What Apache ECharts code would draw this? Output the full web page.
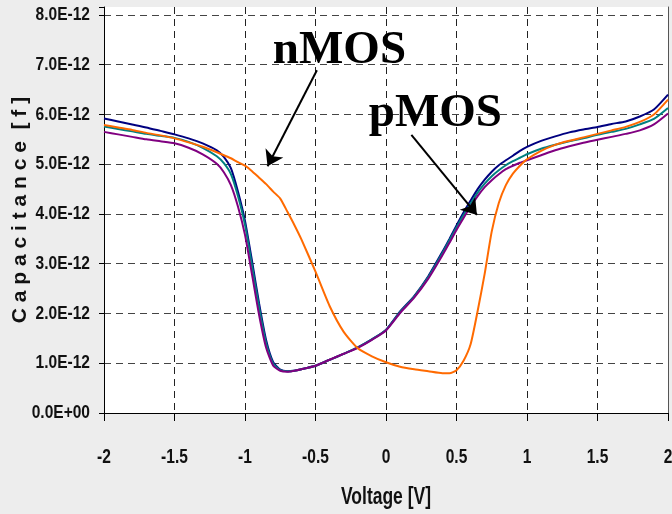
<!DOCTYPE html>
<html>
<head>
<meta charset="utf-8">
<script src="https://cdn.jsdelivr.net/npm/echarts@6/dist/echarts.min.js"></script>
<style>
  html, body { margin: 0; padding: 0; background: #ededed; }
  #chart { width: 672px; height: 514px; }
</style>
</head>
<body>
<div id="chart"></div>
<script>
// Gate voltage sweep [V]
var voltage = [-2.0,-1.9,-1.8,-1.7,-1.6,-1.5,-1.4,-1.3,-1.2,-1.15,-1.1,-1.05,-1.0,-0.95,-0.9,-0.85,-0.8,-0.75,-0.7,-0.65,-0.6,-0.5,-0.4,-0.3,-0.2,-0.1,0.0,0.1,0.2,0.3,0.4,0.45,0.5,0.55,0.6,0.65,0.7,0.75,0.8,0.85,0.9,0.95,1.0,1.1,1.2,1.3,1.4,1.5,1.6,1.7,1.8,1.9,2.0];

// Measured capacitance, in units of 1E-12 F
var capNavy = [5.92,5.86,5.80,5.74,5.67,5.60,5.52,5.42,5.28,5.15,4.92,4.45,3.86,3.05,2.20,1.46,1.02,0.87,0.84,0.85,0.88,0.95,1.07,1.19,1.32,1.48,1.67,2.04,2.35,2.75,3.24,3.50,3.77,4.03,4.27,4.50,4.69,4.85,4.98,5.08,5.17,5.27,5.35,5.47,5.56,5.64,5.70,5.75,5.81,5.86,5.96,6.10,6.40];
var capTeal = [5.76,5.71,5.66,5.61,5.57,5.53,5.45,5.33,5.16,5.02,4.80,4.36,3.78,2.96,2.12,1.40,0.99,0.86,0.84,0.85,0.88,0.95,1.07,1.19,1.32,1.48,1.67,2.03,2.34,2.73,3.21,3.47,3.73,3.98,4.21,4.43,4.61,4.76,4.88,4.98,5.06,5.13,5.20,5.31,5.39,5.46,5.52,5.59,5.65,5.71,5.80,5.91,6.13];
var capPurple = [5.65,5.60,5.55,5.50,5.46,5.42,5.33,5.20,5.01,4.84,4.58,4.15,3.58,2.78,1.97,1.31,0.95,0.85,0.83,0.85,0.88,0.95,1.07,1.19,1.31,1.47,1.66,2.01,2.32,2.70,3.17,3.42,3.68,3.92,4.15,4.36,4.54,4.68,4.80,4.90,4.97,5.03,5.08,5.18,5.28,5.36,5.43,5.49,5.55,5.61,5.68,5.80,6.02];
var capOrange = [5.79,5.74,5.69,5.63,5.58,5.52,5.44,5.35,5.24,5.18,5.12,5.04,4.97,4.86,4.73,4.60,4.45,4.31,4.05,3.78,3.49,2.84,2.15,1.63,1.30,1.14,1.02,0.93,0.88,0.84,0.80,0.80,0.86,1.05,1.38,2.05,2.80,3.65,4.22,4.58,4.81,4.97,5.10,5.27,5.39,5.47,5.54,5.61,5.68,5.75,5.85,6.00,6.30];

// Tick values and their labels
var xTickValues = [-2, -1.5, -1, -0.5, 0, 0.5, 1, 1.5, 2];
var xTickLabels = ['-2','-1.5','-1','-0.5','0','0.5','1','1.5','2'];
var yTickValues = [0, 1, 2, 3, 4, 5, 6, 7, 8];
var yTickLabels = ['0.0E+00','1.0E-12','2.0E-12','3.0E-12','4.0E-12','5.0E-12','6.0E-12','7.0E-12','8.0E-12'];

// Callouts: label text, label anchor, arrow start, arrow tip (voltage, capacitance)
var calloutText = ['nMOS', 'pMOS'];
var calloutLabelAt = [[-0.33, 7.27], [0.35, 6.02]];
var calloutArrowFrom = [[-0.49, 6.89], [0.18, 5.59]];
var calloutArrowTo = [[-0.84, 4.96], [0.645, 3.98]];

function pairs(ys) {
  return voltage.map(function (v, i) { return [v, ys[i]]; });
}

var sansBold = 'bold {size}px "Liberation Sans", Arial, sans-serif';
function font(size) { return sansBold.replace('{size}', size); }

var chart = echarts.init(document.getElementById('chart'), null, { renderer: 'canvas' });

var lineSeries = [
  { name: 'navy', color: '#000080', data: capNavy },
  { name: 'teal', color: '#008080', data: capTeal },
  { name: 'purple', color: '#800080', data: capPurple },
  { name: 'orange', color: '#ff6a00', data: capOrange }
].map(function (s) {
  return {
    name: s.name,
    type: 'line',
    data: pairs(s.data),
    showSymbol: false,
    smooth: 0.2,
    lineStyle: { color: s.color, width: 2 },
    itemStyle: { color: s.color },
    animation: false,
    z: 3
  };
});

// arrows and callout labels ride on the last series
lineSeries[3].markLine = {
  silent: true,
  symbol: ['none', 'arrow'],
  symbolSize: 15,
  lineStyle: { color: '#000', width: 2, type: 'solid' },
  itemStyle: { color: '#000' },
  label: { show: false },
  emphasis: { disabled: true },
  data: calloutArrowFrom.map(function (p, i) {
    return [{ coord: p }, { coord: calloutArrowTo[i] }];
  }),
  animation: false
};
lineSeries[3].markPoint = {
  silent: true,
  symbol: 'circle',
  symbolSize: 0,
  label: {
    show: true,
    position: 'inside',
    color: '#000',
    fontFamily: '"Liberation Serif", "Times New Roman", serif',
    fontWeight: 'bold',
    fontSize: 47,
    formatter: function (p) { return p.name; }
  },
  data: calloutText.map(function (t, i) {
    return { name: t, coord: calloutLabelAt[i] };
  }),
  animation: false
};

var option = {
  backgroundColor: '#ededed',
  animation: false,
  grid: {
    left: 104, right: 4, top: 7, bottom: 101,
    outerBoundsMode: 'none',
    containLabel: false,
    show: true, backgroundColor: '#ffffff', borderWidth: 0
  },
  xAxis: {
    type: 'value',
    min: -2, max: 2, interval: 0.5,
    axisLine: { onZero: false, lineStyle: { color: '#000', width: 1 } },
    axisTick: { show: true, length: 8, lineStyle: { color: '#000' } },
    axisLabel: { show: false },
    splitLine: { show: true, lineStyle: { color: '#222', type: [7, 5], width: 1 } }
  },
  yAxis: [{
    type: 'value',
    min: 0, max: 8.16, interval: 1,
    name: 'C a p a c i t a n c e  [ f ]',
    nameLocation: 'middle',
    nameGap: 73,
    nameRotate: 90,
    nameTextStyle: { fontFamily: '"Liberation Sans", Arial, sans-serif', fontWeight: 'bold', fontSize: 21, color: '#111' },
    axisLine: { show: true, onZero: false, lineStyle: { color: '#000', width: 1 } },
    axisTick: { show: true, length: 5, lineStyle: { color: '#000' } },
    axisLabel: { show: false },
    splitLine: { show: true, showMaxLine: false, lineStyle: { color: '#444', type: [7, 5], width: 1 } }
  }, {
    type: 'value',
    position: 'right',
    min: 0, max: 8.16,
    axisLine: { show: true, onZero: false, lineStyle: { color: '#555', width: 1 } },
    axisTick: { show: false },
    axisLabel: { show: false },
    splitLine: { show: false }
  }],
  series: lineSeries
};

chart.setOption(option);

// Condensed bold tick labels and x title, placed through the axis scales
function condensedText(text, x, y, size, scaleX, align) {
  return {
    type: 'text',
    x: x, y: y,
    scaleX: scaleX,
    silent: true,
    style: {
      text: text,
      x: 0, y: 0,
      font: font(size),
      fill: '#111',
      align: align,
      verticalAlign: 'middle'
    },
    z: 10
  };
}

var labels = [];
var axisBottom = chart.convertToPixel({ yAxisIndex: 0 }, 0);
var axisLeft = chart.convertToPixel({ xAxisIndex: 0 }, -2);
xTickValues.forEach(function (v, i) {
  var px = chart.convertToPixel({ xAxisIndex: 0 }, v);
  labels.push(condensedText(xTickLabels[i], px, axisBottom + 44, 21, 0.74, 'center'));
});
yTickValues.forEach(function (v, i) {
  var py = chart.convertToPixel({ yAxisIndex: 0 }, v);
  labels.push(condensedText(yTickLabels[i], axisLeft - 14, py, 18.5, 0.84, 'right'));
});
var xMid = chart.convertToPixel({ xAxisIndex: 0 }, 0);
labels.push(condensedText('Voltage [V]', xMid, axisBottom + 85, 23, 0.76, 'center'));

chart.setOption({ graphic: labels });
</script>
</body>
</html>
